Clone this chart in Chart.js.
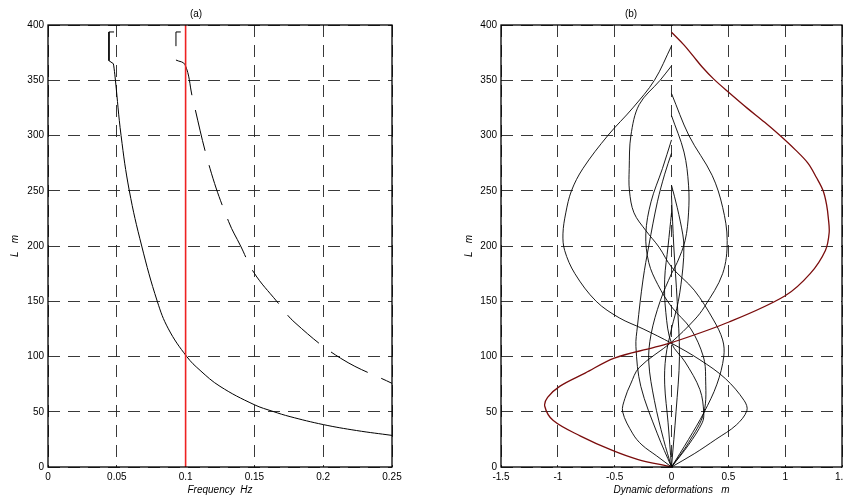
<!DOCTYPE html>
<html>
<head>
<meta charset="utf-8">
<script src="https://cdn.jsdelivr.net/npm/chart.js@4.4.0/dist/chart.umd.min.js"></script>
<style>
  body { margin: 0; background: #fff; }
  #wrap { position: relative; width: 843px; height: 498px; }
  canvas { position: absolute; top: 0; }
</style>
</head>
<body>
<div id="wrap">
  <canvas id="chartA" width="420" height="498" style="left:0"></canvas>
  <canvas id="chartB" width="423" height="498" style="left:420px"></canvas>
</div>
<script>
// ---- panel (a): L vs frequency ----
var freqTicks = [0, 0.05, 0.1, 0.15, 0.2, 0.25];
var lenTicks = [0, 50, 100, 150, 200, 250, 300, 350, 400];

// little bracket at the top of each curve (sharp corners)
var solidTopFreq = [0.048, 0.0443, 0.0443, 0.0475];
var solidTopL    = [393.7, 393.7, 367.7, 365];
var solidFreq = [0.0475, 0.048, 0.049, 0.0531, 0.0591, 0.0681, 0.0794, 0.0875, 0.1008, 0.1105, 0.125, 0.1497, 0.1637, 0.1759, 0.2, 0.2243, 0.25];
var solidL    = [365, 361, 350, 300, 250, 200, 150, 125, 100, 87.5, 73, 56.5, 50.2, 45.6, 38.4, 33, 28.6];

var dashTopFreq = [0.0965, 0.093, 0.093];
var dashTopL    = [393.7, 393.7, 368.3];
var dashFreq = [0.093, 0.0996, 0.1051, 0.1177, 0.1313, 0.14, 0.1497, 0.1662, 0.1795, 0.2127, 0.25];
var dashL    = [368.3, 364, 333.6, 270.3, 222, 200, 175.8, 150, 130.6, 98.4, 75.7];

var markFreq = [0.1, 0.1];
var markL    = [0, 400];

// ---- panel (b): mode shapes, deformation vs L ----
var defTicks = [-1.5, -1, -0.5, 0, 0.5, 1, 1.5];

var modeA_def = [0, -0.3, -0.52, -0.8, -1.04, -1.115, -1.09, -0.984, -0.76, -0.503, -0.16, 0, 0.5, 1.0, 1.22, 1.354, 1.387, 1.38, 1.365, 1.334, 1.275, 1.2, 1.09, 0.955, 0.82, 0.663, 0.515, 0.372, 0.27, 0.19, 0.109, 0];
var modeA_L   = [0, 7, 15, 28, 42, 55, 63, 73, 85, 98.6, 108, 112.5, 131, 155, 175, 196, 212, 225, 237, 250, 262, 275, 287, 300, 312, 325, 338, 351, 362, 372, 382, 393.5];

var modeB_def = [0, 0.2, 0.39, 0.57, 0.663, 0.64, 0.474, 0.25, 0, -0.25, -0.46, -0.663, -0.85, -0.94, -0.955, -0.93, -0.88, -0.78, -0.56, -0.34, -0.15, 0];
var modeB_L   = [0, 12, 25, 38, 51, 60, 80, 97, 112, 125, 135, 150, 175, 196, 211, 230, 250, 270, 300, 325, 350, 381];

var modeC_def = [0, 0.15, 0.284, 0.4, 0.46, 0.45, 0.37, 0.2, 0, -0.11, -0.226, -0.33, -0.37, -0.372, -0.357, -0.284, -0.1, 0];
var modeC_L   = [0, 25, 49, 75, 100, 115, 133, 160, 181, 199, 214, 230, 250, 270, 300, 328, 350, 363];

var modeD_def = [0, -0.13, -0.26, -0.34, -0.43, -0.41, -0.36, -0.284, 0, 0.2, 0.29, 0.45, 0.49, 0.45, 0.357, 0.153, 0];
var modeD_L   = [0, 10, 20, 30, 50, 62, 75, 90, 113, 133, 145, 175, 205, 235, 264, 300, 338];

var modeE_def = [0, -0.07, -0.15, -0.2, -0.18, -0.1, 0, 0.05, 0.12, 0.15, 0.15, 0.11, 0];
var modeE_L   = [0, 25, 60, 95, 120, 150, 175, 185, 205, 230, 255, 285, 318];

var modeF_def = [0, 0.15, 0.284, 0.3, 0.28, 0.17, 0, -0.12, -0.2, -0.226, -0.18, -0.08, 0];
var modeF_L   = [0, 22, 49, 82, 100, 125, 145, 165, 185, 211, 240, 270, 296];

var modeG_def = [0, -0.124, -0.27, -0.313, -0.3, -0.25, -0.2, -0.124, -0.06, 0];
var modeG_L   = [0, 30, 73, 109, 127, 170, 200, 240, 265, 284];

var modeH_def = [0, -0.03, -0.06, -0.05, 0, 0.06, 0.1, 0.109, 0.1, 0.05, 0];
var modeH_L   = [0, 40, 75, 100, 125, 150, 180, 199, 210, 235, 255];

var modeJ_def = [0, 0.15, 0.27, 0.284, 0.25, 0.12, 0, -0.05, -0.06, -0.03, 0];
var modeJ_L   = [0, 20, 40, 49, 70, 95, 112, 140, 170, 200, 230];

var modeK_def = [0, 0.04, 0.07, 0.05, 0.02, 0];
var modeK_L   = [0, 50, 100, 150, 200, 245];

function pts(xs, ys) {
    return xs.map(function(x, i) { return { x: x, y: ys[i] }; });
}

var fontTick = { family: 'Liberation Sans, Arial, sans-serif', size: 10 };
var fontItal = { family: 'Liberation Sans, Arial, sans-serif', size: 10, style: 'italic' };

// box around the plot area, like matlab
var framePlugin = {
    id: 'frame',
    afterDatasetsDraw: function(chart) {
        var a = chart.chartArea, ctx = chart.ctx;
        ctx.save();
        ctx.strokeStyle = '#000';
        ctx.lineWidth = 1.3;
        ctx.strokeRect(a.left, a.top, a.right - a.left, a.bottom - a.top);
        ctx.restore();
    }
};

function lineSet(data, color, width, dash, tension, dashOffset) {
    return {
        data: data,
        showLine: true,
        borderColor: color,
        backgroundColor: color,
        borderWidth: width,
        borderDash: dash || [],
        borderDashOffset: dashOffset || 0,
        tension: tension || 0,
        pointRadius: 0,
        pointHoverRadius: 0,
        fill: false
    };
}

function axisX(min, max, tickVals, title) {
    return {
        type: 'linear', min: min, max: max,
        afterBuildTicks: function(s) { s.ticks = tickVals.map(function(v) { return { value: v }; }); },
        afterFit: function(s) { s.height = 31; s.paddingLeft = 0; s.paddingRight = 0; },
        ticks: { color: '#000', font: fontTick, padding: 4, maxRotation: 0, autoSkip: false,
                 callback: function(v) { return String(v); } },
        grid: { color: '#222', lineWidth: 0.9, drawTicks: false },
        border: { display: false, dash: [12, 8] },
        title: { display: true, text: title, color: '#000', font: fontItal, padding: { top: 0, bottom: 2 } }
    };
}

function axisY(yWidth, titlePad) {
    return {
        type: 'linear', min: 0, max: 400,
        afterBuildTicks: function(s) { s.ticks = lenTicks.map(function(v) { return { value: v }; }); },
        afterFit: function(s) { s.width = yWidth; },
        ticks: { color: '#000', font: fontTick, padding: 4, autoSkip: false },
        grid: { color: '#222', lineWidth: 0.9, drawTicks: false },
        border: { display: false, dash: [12, 8] },
        title: { display: true, text: 'L   m', color: '#000', font: fontItal, padding: { top: titlePad, bottom: 0 } }
    };
}

function baseOptions(titleText, rightPad, xScale, yScale) {
    return {
        responsive: false,
        animation: false,
        devicePixelRatio: 1,
        layout: { padding: { left: 0, right: rightPad, top: 0, bottom: 0 } },
        plugins: {
            legend: { display: false },
            tooltip: { enabled: false },
            title: { display: true, text: titleText, color: '#000', font: { family: 'Liberation Sans, Arial, sans-serif', size: 10, weight: 'normal' },
                     padding: { top: 8, bottom: 5 } }
        },
        scales: { x: xScale, y: yScale }
    };
}

//panel (a)
var chartA = new Chart(document.getElementById('chartA'), {
    type: 'scatter',
    data: {
        datasets: [
            lineSet(pts(markFreq, markL), '#ee2222', 1.6),
            lineSet(pts(solidTopFreq, solidTopL), '#000', 1),
            lineSet(pts(solidFreq, solidL), '#000', 1, null, 0.4),
            lineSet(pts(dashTopFreq, dashTopL), '#000', 1, [42, 15], 0, 23),
            lineSet(pts(dashFreq, dashL), '#000', 1, [42, 15], 0.4)
        ]
    },
    options: baseOptions('(a)', 28, axisX(0, 0.25, freqTicks, 'Frequency  Hz'), axisY(48, 9)),
    plugins: [framePlugin]
});

//panel (b)
var black = '#000';
var chartB = new Chart(document.getElementById('chartB'), {
    type: 'scatter',
    data: {
        datasets: [
            lineSet(pts(modeA_def, modeA_L), '#7a0c0c', 1.3, null, 0.35),
            lineSet(pts(modeB_def, modeB_L), black, 0.9, null, 0.35),
            lineSet(pts(modeC_def, modeC_L), black, 0.9, null, 0.35),
            lineSet(pts(modeD_def, modeD_L), black, 0.9, null, 0.35),
            lineSet(pts(modeE_def, modeE_L), black, 0.9, null, 0.35),
            lineSet(pts(modeF_def, modeF_L), black, 0.9, null, 0.35),
            lineSet(pts(modeG_def, modeG_L), black, 0.9, null, 0.35),
            lineSet(pts(modeH_def, modeH_L), black, 0.9, null, 0.35),
            lineSet(pts(modeJ_def, modeJ_L), black, 0.9, null, 0.35),
            lineSet(pts(modeK_def, modeK_L), black, 0.9, null, 0.35)
        ]
    },
    options: baseOptions('(b)', 1, axisX(-1.5, 1.5, defTicks, 'Dynamic deformations   m'), axisY(81, 43)),
    plugins: [framePlugin]
});
</script>
</body>
</html>
